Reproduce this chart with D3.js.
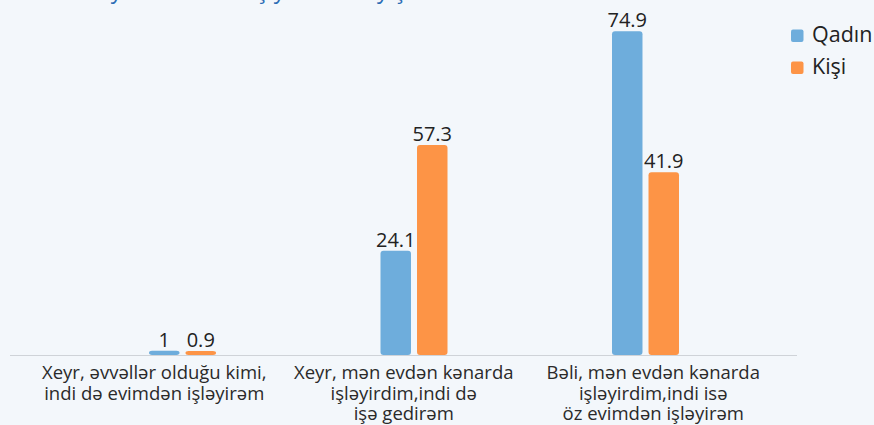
<!DOCTYPE html>
<html>
<head>
<meta charset="utf-8">
<script src="https://cdn.jsdelivr.net/npm/d3@7"></script>
<style>
  html, body { margin: 0; padding: 0; background: #f3f7fb; }
  svg { display: block; font-family: 'Open Sans', sans-serif; }
</style>
</head>
<body>
<div id="chart"></div>
<script>
// categories (x axis), each one split into its lines
const categories = [
  ['Xeyr, əvvəllər olduğu kimi,', 'indi də evimdən işləyirəm'],
  ['Xeyr, mən evdən kənarda', 'işləyirdim,indi də', 'işə gedirəm'],
  ['Bəli, mən evdən kənarda', 'işləyirdim,indi isə', 'öz evimdən işləyirəm'],
];
const seriesNames = ['Qadın', 'Kişi'];
// bar heights
const qadinValues = [1, 24.1, 74.9];
const kisiValues = [0.9, 48.6, 42.3];
// printed value labels
const qadinLabels = ['1', '24.1', '74.9'];
const kisiLabels = ['0.9', '57.3', '41.9'];

const title = 'Pandemiya dövründə iş yeriniz dəyişibmi?';

const width = 874;
const height = 425;
const baseY = 355;
const font = "'Open Sans', sans-serif";
const colors = { 'Qadın': '#6eaddc', 'Kişi': '#fd9446' };

const svg = d3.select('#chart').append('svg')
  .attr('width', width)
  .attr('height', height);

// cut-off title at the very top
svg.append('text')
  .attr('x', 16)
  .attr('y', -2)
  .attr('fill', '#2c6db5')
  .attr('font-size', 23)
  .text(title);

const catKeys = categories.map(c => c.join(' '));

const y = d3.scaleLinear()
  .domain([0, 80])
  .range([baseY, baseY - 80 * 4.322]);

const x0 = d3.scaleBand()
  .domain(catKeys)
  .range([66.75, 761.25]);

const x1 = d3.scaleBand()
  .domain(seriesNames)
  .range([0, 67])
  .paddingInner(0.165);

const xl = d3.scaleBand()
  .domain(catKeys)
  .range([29.5, 778]);

const rows = catKeys.map((k, i) => ({
  key: k,
  values: [
    { name: 'Qadın', value: qadinValues[i], label: qadinLabels[i] },
    { name: 'Kişi', value: kisiValues[i], label: kisiLabels[i] },
  ],
}));

// baseline
svg.append('line')
  .attr('x1', 10)
  .attr('x2', 797)
  .attr('y1', baseY + 0.5)
  .attr('y2', baseY + 0.5)
  .attr('stroke', '#cfd3d8')
  .attr('stroke-width', 1.2);

const groups = svg.append('g')
  .selectAll('g')
  .data(rows)
  .join('g')
  .attr('transform', d => `translate(${x0(d.key) + (x0.bandwidth() - 67) / 2},0)`);

groups.selectAll('rect')
  .data(d => d.values)
  .join('rect')
  .attr('x', d => x1(d.name))
  .attr('y', d => y(d.value))
  .attr('width', x1.bandwidth())
  .attr('height', d => baseY - y(d.value))
  .attr('rx', 3)
  .attr('fill', d => colors[d.name]);

groups.selectAll('text')
  .data(d => d.values)
  .join('text')
  .attr('x', d => x1(d.name) + x1.bandwidth() / 2)
  .attr('y', d => y(d.value) - 4)
  .attr('text-anchor', 'middle')
  .attr('font-size', 20)
  .attr('fill', '#222')
  .text(d => d.label);

// x axis labels
const axis = svg.append('g')
  .attr('transform', `translate(0,${baseY})`)
  .call(d3.axisBottom(xl).tickSize(0).tickFormat(''));
axis.select('.domain').remove();

axis.selectAll('.tick').each(function (d, i) {
  const t = d3.select(this).append('text')
    .attr('text-anchor', 'middle')
    .attr('font-family', font)
    .attr('font-size', 18.5)
    .attr('fill', '#2a2a2a');
  categories[i].forEach((line, j) => {
    t.append('tspan')
      .attr('x', 0)
      .attr('y', 24 + j * 20.5)
      .text(line);
  });
});

// legend
const legend = svg.append('g')
  .selectAll('g')
  .data(seriesNames)
  .join('g')
  .attr('transform', (d, i) => `translate(791,${29.5 + i * 32})`);

legend.append('rect')
  .attr('width', 12.5)
  .attr('height', 12.5)
  .attr('rx', 2)
  .attr('fill', d => colors[d]);

legend.append('text')
  .attr('x', 21)
  .attr('y', 12)
  .attr('font-size', 21.5)
  .attr('fill', '#222')
  .text(d => d);
</script>
</body>
</html>
